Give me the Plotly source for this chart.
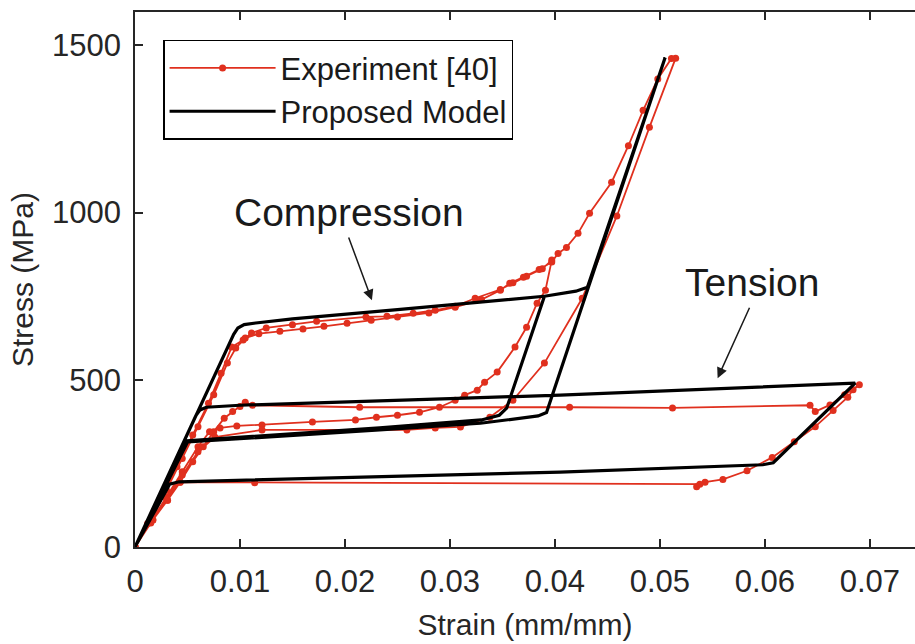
import plotly.graph_objects as go

# ---------------- data ----------------
# Experiment [40] : tension cycle, compression cycle 1, compression cycle 2
exp_strain = [
    # tension cycle
    0, 0.0017, 0.0031, 0.0043, 0.0055, 0.0065, 0.0075, 0.0085, 0.0093, 0.0100, 0.0105, 0.0112,
    0.0214, 0.0414, 0.0512, 0.0643, 0.0648, 0.0662, 0.0676, 0.0690,
    0.0684, 0.0679, 0.0665, 0.0648, 0.0628, 0.0607, 0.0583, 0.0560, 0.0543, 0.0535, 0.0538,
    0.0114, 0.0043, 0.0031, 0.0017, 0,
    # compression cycle 1
    0.0012, 0.0025, 0.0040, 0.0055, 0.0070, 0.0082, 0.0092, 0.0103, 0.0111, 0.0125, 0.0150,
    0.0173, 0.0220, 0.0240, 0.0265, 0.0286, 0.0305, 0.0324, 0.0348, 0.0360, 0.0373, 0.0388, 0.0397,
    0.0391, 0.0383, 0.0373, 0.0362, 0.0345, 0.0333, 0.0326, 0.0314, 0.0305, 0.0290, 0.0271,
    0.0250, 0.0230, 0.0210, 0.0169, 0.0121, 0.0097, 0.0081, 0.0071, 0.0060, 0.0045, 0.0030,
    0.0015, 0,
    # compression cycle 2
    0.0015, 0.0030, 0.0045, 0.0060, 0.0075, 0.0088, 0.0096, 0.0105, 0.0118, 0.0138, 0.0160,
    0.0180, 0.0202, 0.0225, 0.0250, 0.0280, 0.0305, 0.0330, 0.0348, 0.0357, 0.0370, 0.0385,
    0.0397, 0.0403, 0.0411, 0.0422, 0.0433, 0.0454, 0.0470, 0.0484, 0.0498, 0.0511, 0.0515,
    0.0490, 0.0459, 0.0426, 0.0390, 0.0360, 0.0338, 0.0310, 0.0286, 0.0259, 0.0121, 0.0076,
    0.0060, 0.0045, 0.0030, 0.0015, 0,
]
exp_stress = [
    # tension cycle
    0, 81, 140, 194, 255, 300, 345, 385, 405, 420, 433, 424,
    418, 418, 416, 424, 405, 425, 455, 485,
    470, 448, 408, 360, 315, 268, 228, 202, 194, 180, 188,
    192, 194, 140, 81, 0,
    # compression cycle 1
    70, 150, 240, 335, 430, 520, 598, 619, 640, 655, 665,
    675, 688, 690, 699, 708, 720, 744, 770, 790, 810, 832, 858,
    768, 729, 657, 598, 523, 493, 469, 454, 439, 418, 403,
    394, 388, 380, 374, 365, 362, 356, 345, 300, 225, 150,
    75, 0,
    # compression cycle 2
    80, 170, 265, 360, 455, 550, 595, 625, 638, 645, 652,
    660, 669, 678, 688, 700, 717, 740, 768, 789, 807, 830,
    852, 878, 896, 938, 998, 1091, 1200, 1306, 1400, 1461, 1462,
    1255, 990, 744, 550, 439, 388, 359, 356, 350, 350, 329,
    285, 215, 145, 72, 0,
]

# Proposed model
model_strain = [
    # tension cycle
    0, 0.0058, 0.0062, 0.0068, 0.0100, 0.0200, 0.0300, 0.0405, 0.0500, 0.0600, 0.0686,
    0.0608, 0.0598, 0.0405, 0.0233, 0.0042, 0.0033, 0,
    # compression cycle 1
    0.0094, 0.0098, 0.0104, 0.0115, 0.0150, 0.0200, 0.0250, 0.0300, 0.0350, 0.0390,
    0.0354, 0.0347, 0.0330, 0.0233, 0.0050, 0,
    # compression cycle 2
    0.0094, 0.0098, 0.0104, 0.0115, 0.0150, 0.0200, 0.0250, 0.0300, 0.0350, 0.0390, 0.0420,
    0.0431, 0.0505, 0.0392, 0.0384, 0.0329, 0.0233, 0.0050, 0,
]
model_stress = [
    # tension cycle
    0, 393, 410, 418, 424, 435, 444, 454, 466, 478, 490,
    252, 246, 224, 210, 195, 188, 0,
    # compression cycle 1
    636, 655, 665, 670, 682, 697, 710, 724, 738, 750,
    415, 394, 380, 356, 318, 0,
    # compression cycle 2
    636, 655, 665, 670, 682, 697, 710, 724, 738, 750, 765,
    777, 1464, 402, 392, 370, 350, 314, 0,
]

x_tickvals = [0, 0.01, 0.02, 0.03, 0.04, 0.05, 0.06, 0.07]
x_ticktext = ["0", "0.01", "0.02", "0.03", "0.04", "0.05", "0.06", "0.07"]
y_tickvals = [0, 500, 1000, 1500]
y_ticktext = ["0", "500", "1000", "1500"]

# ---------------- figure ----------------
FONT = "Liberation Sans, Arial, Helvetica, sans-serif"
AXC = "#262626"
RED = "#e0301e"

fig = go.Figure()
fig.add_trace(go.Scatter(
    x=exp_strain, y=exp_stress, mode="lines+markers", name="Experiment [40]",
    line=dict(color=RED, width=1.8), marker=dict(color=RED, size=7),
))
fig.add_trace(go.Scatter(
    x=model_strain, y=model_stress, mode="lines", name="Proposed Model",
    line=dict(color="black", width=3.2),
))

fig.add_annotation(x=0.0204, y=1001, xref="x", yref="y", text="Compression",
                   showarrow=False, font=dict(family=FONT, size=39, color="#1a1a1a"))
fig.add_annotation(x=0.02257, y=738, ax=0.0203, ay=930, xref="x", yref="y",
                   axref="x", ayref="y", text="", showarrow=True, arrowhead=2,
                   arrowsize=1.4, arrowwidth=1.5, arrowcolor="#1a1a1a")
fig.add_annotation(x=0.05876, y=792, xref="x", yref="y", text="Tension",
                   showarrow=False, font=dict(family=FONT, size=39, color="#1a1a1a"))
fig.add_annotation(x=0.0555, y=505, ax=0.0586, ay=720, xref="x", yref="y",
                   axref="x", ayref="y", text="", showarrow=True, arrowhead=2,
                   arrowsize=1.4, arrowwidth=1.5, arrowcolor="#1a1a1a")

fig.update_layout(
    width=915, height=644,
    margin=dict(l=135, r=0, t=12, b=97),
    paper_bgcolor="white", plot_bgcolor="white",
    font=dict(family=FONT, color=AXC),
    showlegend=True,
    legend=dict(x=0.036, y=0.948, xanchor="left", yanchor="top",
                bgcolor="white", bordercolor="black", borderwidth=1.5,
                font=dict(family=FONT, size=31, color="#1a1a1a"),
                itemwidth=106, tracegroupgap=0),
)
fig.update_xaxes(
    range=[0, 0.0743], tickvals=x_tickvals, ticktext=x_ticktext,
    showgrid=False, zeroline=False, showline=True, linecolor=AXC, linewidth=1.5,
    mirror="ticks", ticks="inside", ticklen=8, tickwidth=1.5, tickcolor=AXC,
    tickfont=dict(family=FONT, size=31, color=AXC), ticklabelstandoff=6,
    title=dict(text="Strain (mm/mm)", font=dict(family=FONT, size=30, color=AXC), standoff=16),
    automargin=False,
)
fig.update_yaxes(
    range=[0, 1600], tickvals=y_tickvals, ticktext=y_ticktext,
    showgrid=False, zeroline=False, showline=True, linecolor=AXC, linewidth=1.5,
    mirror=False, ticks="inside", ticklen=8, tickwidth=1.5, tickcolor=AXC,
    tickfont=dict(family=FONT, size=31, color=AXC), ticklabelstandoff=6,
    title=dict(text="Stress (MPa)", font=dict(family=FONT, size=30, color=AXC), standoff=10),
    automargin=False,
)

fig.write_html("out.html", config={"displayModeBar": False},
               post_script="document.body.style.margin='0px';")
